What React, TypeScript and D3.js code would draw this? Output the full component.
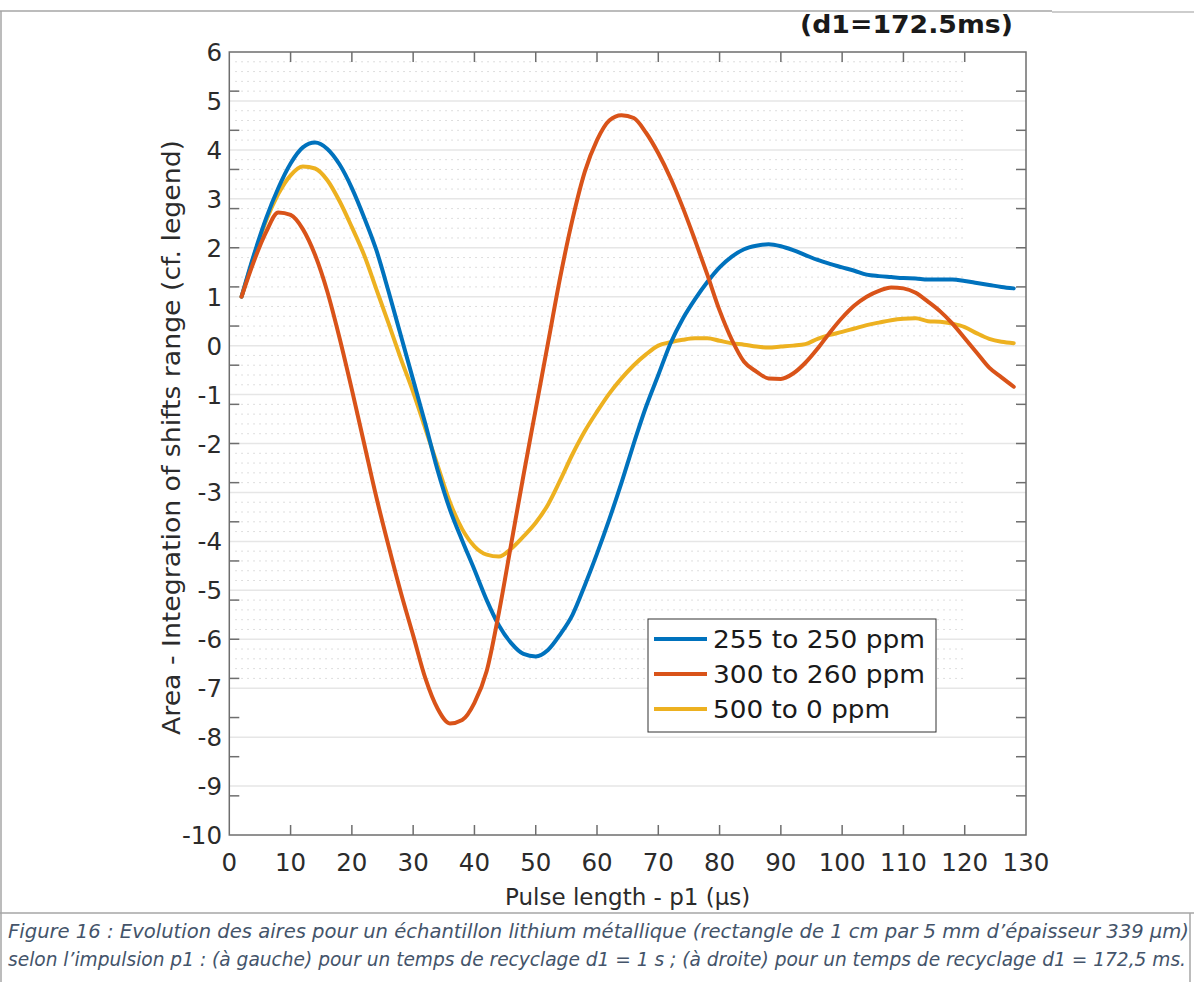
import React from 'react';
import * as d3 from 'd3';

// pulse length p1 (µs)
const pulseLength = [
  2, 4, 6, 8, 10, 12, 14, 16, 18, 20, 22, 24, 26, 28, 30, 32,
  34, 36, 38, 40, 42, 44, 46, 48, 50, 52, 54, 56, 58, 60, 62, 64,
  66, 68, 70, 72, 74, 76, 78, 80, 82, 84, 86, 88, 90, 92, 94, 96,
  98, 100, 102, 104, 106, 108, 110, 112, 114, 116, 118, 120, 122, 124, 126, 128,
];

// 255 to 250 ppm
const blueArea = [
  1.0, 1.85, 2.6, 3.22, 3.72, 4.05, 4.15, 4.02, 3.7, 3.22, 2.62, 1.95, 1.1, 0.2, -0.7, -1.6,
  -2.55, -3.35, -3.98, -4.58, -5.2, -5.72, -6.08, -6.3, -6.35, -6.22, -5.9, -5.5, -4.9, -4.25, -3.55, -2.8,
  -2.0, -1.25, -0.6, 0.05, 0.55, 0.95, 1.3, 1.6, 1.82, 1.97, 2.04, 2.07, 2.03, 1.95, 1.85, 1.75,
  1.67, 1.6, 1.53, 1.45, 1.42, 1.4, 1.38, 1.37, 1.35, 1.35, 1.35, 1.32, 1.28, 1.24, 1.2, 1.17,
];

// 300 to 260 ppm
const redArea = [
  1.0, 1.72, 2.32, 2.72, 2.67, 2.38, 1.85, 1.1, 0.15, -0.9, -2.0, -3.1, -4.1, -5.05, -5.92, -6.8,
  -7.42, -7.72, -7.65, -7.3, -6.65, -5.45, -4.05, -2.65, -1.3, 0.05, 1.4, 2.58, 3.55, 4.2, 4.6, 4.71,
  4.65, 4.35, 3.93, 3.42, 2.82, 2.15, 1.45, 0.72, 0.12, -0.33, -0.53, -0.67, -0.68, -0.57, -0.35, -0.06,
  0.27, 0.57, 0.82, 1.0, 1.12, 1.19, 1.17, 1.08, 0.9, 0.7, 0.45, 0.15, -0.15, -0.45, -0.65, -0.84,
];

// 500 to 0 ppm
const yellowArea = [
  1.0, 1.82, 2.55, 3.1, 3.48, 3.66, 3.62, 3.38, 2.95, 2.42, 1.85, 1.15, 0.45, -0.27, -0.95, -1.7,
  -2.45, -3.2, -3.75, -4.1, -4.27, -4.31, -4.15, -3.9, -3.62, -3.25, -2.75, -2.22, -1.75, -1.35, -0.98, -0.67,
  -0.4, -0.18, 0.0, 0.07, 0.12, 0.15, 0.15, 0.1, 0.05, 0.02, -0.02, -0.04, -0.02, 0.0, 0.03, 0.14,
  0.22, 0.28, 0.35, 0.42, 0.47, 0.52, 0.55, 0.56, 0.5, 0.49, 0.45, 0.38, 0.25, 0.14, 0.08, 0.05,
];

const seriesNames = ['255 to 250 ppm', '300 to 260 ppm', '500 to 0 ppm'];
const seriesColors = ['#0072BD', '#D95319', '#EDB120'];

const xTicks = [0, 10, 20, 30, 40, 50, 60, 70, 80, 90, 100, 110, 120, 130];
const yTickLabels = [6, 5, 4, 3, 2, 1, 0, -1, -2, -3, -4, -5, -6, -7, -8, -9, -10];

const captionLines = [
  'Figure 16 : Evolution des aires pour un échantillon lithium métallique (rectangle de 1 cm par 5 mm d’épaisseur 339 µm)',
  'selon l’impulsion p1 : (à gauche) pour un temps de recyclage d1 = 1 s ; (à droite) pour un temps de recyclage d1 = 172,5 ms.',
];

const W = 1194;
const H = 982;
const FONT = '"DejaVu Sans", Verdana, sans-serif';

const App: React.FC = () => {
  const left = 229.3, right = 1026, top = 52, bottom = 835;
  const x = d3.scaleLinear().domain([0, 130]).range([left, right]);
  const y = d3.scaleLinear().domain([-10, 6]).range([bottom, top]);

  const line = d3.line<[number, number]>()
    .x(d => x(d[0]))
    .y(d => y(d[1]))
    .curve(d3.curveMonotoneX);

  const all = [blueArea, redArea, yellowArea];
  // draw order: yellow, blue, red
  const order = [2, 0, 1];

  // minor dotted grid every 0.2 between -7 and 6 (not on integers)
  const minor: number[] = [];
  for (let i = -35; i <= 30; i++) {
    if (i % 5 !== 0) minor.push(i / 5);
  }
  const major = d3.range(-9, 6);
  // side ticks of the underlying axis (every 0.8)
  const sideTicks = d3.range(1, 20).map(k => -10 + k * 0.8);

  const axisColor = '#6e6e6e';
  const textColor = '#2b2b2b';
  const legendLen = [212, 212, 177];

  return (
    <div style={{ position: 'absolute', left: 0, top: 0 }}>
      <svg width={W} height={H} style={{ display: 'block', background: '#fff' }}>
        {/* page frame */}
        <line x1={0} x2={1052} y1={11} y2={11} stroke="#a6a6a6" strokeWidth={1.5} />
        <line x1={1052} x2={W} y1={12} y2={12} stroke="#bdbdbd" strokeWidth={1.5} />
        <line x1={1} x2={1} y1={11} y2={H} stroke="#a6a6a6" strokeWidth={1.5} />
        <line x1={0} x2={W} y1={913} y2={913} stroke="#a6a6a6" strokeWidth={1.5} />
        <line x1={1190} x2={1190} y1={913} y2={H} stroke="#a6a6a6" strokeWidth={1.5} />

        {/* grid */}
        {minor.map(v => (
          <line key={'m' + v} x1={x(1)} x2={x(120)} y1={y(v)} y2={y(v)}
            stroke="#c8c8c8" strokeWidth={1} strokeDasharray="1.2 4.8" />
        ))}
        {major.map(v => (
          <line key={'g' + v} x1={left} x2={right} y1={y(v)} y2={y(v)}
            stroke="#e6e6e6" strokeWidth={1.5} />
        ))}

        {/* series */}
        {order.map(i => (
          <path key={'s' + i}
            d={line(pulseLength.map((p, j) => [p, all[i][j]] as [number, number])) || ''}
            fill="none" stroke={seriesColors[i]} strokeWidth={4}
            strokeLinejoin="round" strokeLinecap="round" />
        ))}

        {/* axes box */}
        <rect x={left} y={top} width={right - left} height={bottom - top}
          fill="none" stroke={axisColor} strokeWidth={1.5} />
        {xTicks.slice(1, -1).map(t => (
          <g key={'xt' + t}>
            <line x1={x(t)} x2={x(t)} y1={bottom} y2={bottom - 10} stroke={axisColor} strokeWidth={1.5} />
            <line x1={x(t)} x2={x(t)} y1={top} y2={top + 10} stroke={axisColor} strokeWidth={1.5} />
          </g>
        ))}
        {sideTicks.map(v => (
          <g key={'yt' + v}>
            <line x1={left} x2={left + 10} y1={y(v)} y2={y(v)} stroke={axisColor} strokeWidth={1.5} />
            <line x1={right} x2={right - 10} y1={y(v)} y2={y(v)} stroke={axisColor} strokeWidth={1.5} />
          </g>
        ))}

        {/* tick labels */}
        {xTicks.map(t => (
          <text key={'xl' + t} x={x(t)} y={871} textAnchor="middle"
            fontFamily={FONT} fontSize={24.5} fill={textColor}>{t}</text>
        ))}
        {yTickLabels.map(t => (
          <text key={'yl' + t} x={222} y={y(t) + 9} textAnchor="end"
            fontFamily={FONT} fontSize={24.5} fill={textColor}>{t}</text>
        ))}

        {/* axis titles */}
        <text x={(left + right) / 2} y={905} textAnchor="middle"
          fontFamily={FONT} fontSize={23} fill={textColor}>Pulse length - p1 (µs)</text>
        <text transform="translate(180,437.5) rotate(-90)" textAnchor="middle"
          fontFamily={FONT} fontSize={24} fill={textColor}
          textLength={595} lengthAdjust="spacingAndGlyphs">Area - Integration of shifts range (cf. legend)</text>
        <text x={800} y={33} fontFamily={FONT} fontSize={25}
          fontWeight="bold" fill="#1a1a1a" textLength={213} lengthAdjust="spacingAndGlyphs">(d1=172.5ms)</text>

        {/* legend */}
        <rect x={648} y={619} width={288} height={113} fill="#fff" stroke="#333" strokeWidth={1} />
        {seriesNames.map((n, i) => (
          <g key={'lg' + i}>
            <line x1={654} x2={707} y1={639 + i * 35} y2={639 + i * 35}
              stroke={seriesColors[i]} strokeWidth={4} />
            <text x={713} y={639 + i * 35 + 9} fontFamily={FONT} fontSize={25} fill="#1a1a1a"
              textLength={legendLen[i]} lengthAdjust="spacingAndGlyphs">{n}</text>
          </g>
        ))}

        {/* caption */}
        {captionLines.map((c, i) => (
          <text key={'c' + i} x={8} y={938 + i * 28} fontFamily='"Liberation Sans Narrow", "DejaVu Sans Condensed", sans-serif'
            fontStyle="italic" fontSize={20} fill="#44546A"
            textLength={i === 0 ? 1181 : 1178} lengthAdjust="spacingAndGlyphs">{c}</text>
        ))}
      </svg>
    </div>
  );
};

export default App;
